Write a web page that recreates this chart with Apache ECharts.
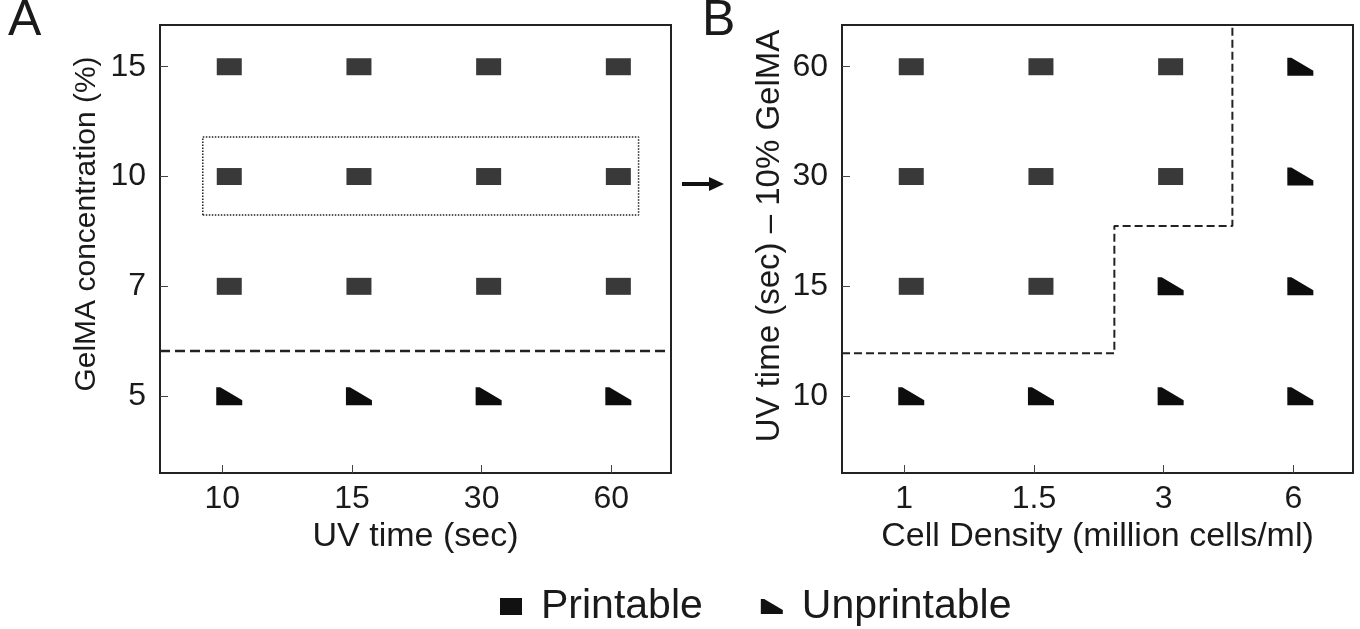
<!DOCTYPE html>
<html>
<head>
<meta charset="utf-8">
<style>
  html, body { margin: 0; padding: 0; background: #fff; }
  #main { width: 1360px; height: 629px; }
</style>
<script src="https://cdn.jsdelivr.net/npm/echarts@6/dist/echarts.min.js"></script>
</head>
<body>
<div id="main"></div>
<script>
'use strict';

// panel A: UV time vs GelMA concentration
const uvTimeA = ['10', '15', '30', '60'];
const gelmaA = ['5', '7', '10', '15'];
// rows follow gelmaA, columns follow uvTimeA (P = printable, U = unprintable)
const statusA = [
  ['U', 'U', 'U', 'U'],
  ['P', 'P', 'P', 'P'],
  ['P', 'P', 'P', 'P'],
  ['P', 'P', 'P', 'P']
];

// panel B: cell density vs UV time (10% GelMA)
const densityB = ['1', '1.5', '3', '6'];
const uvTimeB = ['10', '15', '30', '60'];
const statusB = [
  ['U', 'U', 'U', 'U'],
  ['P', 'P', 'U', 'U'],
  ['P', 'P', 'P', 'U'],
  ['P', 'P', 'P', 'U']
];

const X_MIN = -0.48, X_MAX = 3.46, Y_MIN = -0.7, Y_MAX = 3.38;

// boundaries, in category-index units
const thresholdA = 0.41;
const boxA = [[-0.15, 1.65], [3.21, 1.65], [3.21, 2.36], [-0.15, 2.36], [-0.15, 1.65]];
const stepB = [[X_MIN, 0.39], [1.62, 0.39], [1.62, 1.55], [2.53, 1.55], [2.53, Y_MAX]];

const FONT = '"Liberation Sans", Arial, sans-serif';
const TXT = '#1a1a1a';
const SQUARE = 'rect';
const WEDGE = 'path://M0,0 L4,0 L26,13 L26,18 L0,18 Z';

function points(status, flag) {
  let out = [];
  status.forEach((row, yi) => row.forEach((s, xi) => {
    if (s === flag) out.push([xi, yi]);
  }));
  return out;
}

function xAxis(gridIndex, cats, name) {
  return {
    type: 'value', gridIndex: gridIndex, min: X_MIN, max: X_MAX,
    name: name, nameLocation: 'middle', nameGap: 38,
    nameTextStyle: { fontSize: 34, color: TXT, fontFamily: FONT },
    axisLine: { show: true, onZero: false, lineStyle: { color: '#222', width: 2 } },
    axisTick: { show: true, inside: true, length: 8, customValues: [0, 1, 2, 3], lineStyle: { color: '#444' } },
    axisLabel: {
      customValues: [0, 1, 2, 3], margin: 10, fontSize: 32, color: TXT, fontFamily: FONT,
      formatter: v => cats[Math.round(v)]
    },
    splitLine: { show: false }
  };
}

function yAxis(gridIndex, cats, name, gap, size, shift) {
  return {
    type: 'value', gridIndex: gridIndex, min: Y_MIN, max: Y_MAX,
    name: name, nameLocation: 'middle', nameGap: gap,
    nameTextStyle: { fontSize: size, color: TXT, fontFamily: FONT, padding: [0, 0, 0, shift] },
    axisLine: { show: true, onZero: false, lineStyle: { color: '#222', width: 2 } },
    axisTick: { show: true, inside: true, length: 8, customValues: [0, 1, 2, 3], lineStyle: { color: '#444' } },
    axisLabel: {
      customValues: [0, 1, 2, 3], margin: 14, fontSize: 32, color: TXT, fontFamily: FONT,
      formatter: v => cats[Math.round(v)]
    },
    splitLine: { show: false }
  };
}

function marks(idx, status) {
  return [{
    name: 'Printable', type: 'scatter', xAxisIndex: idx, yAxisIndex: idx,
    symbol: SQUARE, symbolSize: [25, 17], symbolOffset: [7, 0],
    itemStyle: { color: '#393939', opacity: 1 },
    data: points(status, 'P')
  }, {
    name: 'Unprintable', type: 'scatter', xAxisIndex: idx, yAxisIndex: idx,
    symbol: WEDGE, symbolSize: [26, 18], symbolOffset: [7, 0],
    itemStyle: { color: '#0d0d0d', opacity: 1 },
    data: points(status, 'U')
  }];
}

function guide(idx, data, type, width) {
  return {
    type: 'line', xAxisIndex: idx, yAxisIndex: idx, data: data,
    symbol: 'none', silent: true, z: 1,
    lineStyle: { color: '#222', type: type, width: width }
  };
}

let instance = echarts.init(document.getElementById('main'));
instance.setOption({
  animation: false,
  textStyle: { fontFamily: FONT },
  grid: [
    { left: 160, right: 689, top: 25, bottom: 156, show: true, borderColor: '#222', borderWidth: 2 },
    { left: 842, right: 7, top: 25, bottom: 156, show: true, borderColor: '#222', borderWidth: 2 }
  ],
  xAxis: [
    xAxis(0, uvTimeA, 'UV time (sec)'),
    xAxis(1, densityB, 'Cell Density (million cells/ml)')
  ],
  yAxis: [
    yAxis(0, gelmaA, 'GelMA concentration (%)', 58, 30, 50),
    yAxis(1, uvTimeB, 'UV time (sec) – 10% GelMA', 56, 33, 26)
  ],
  legend: {
    left: 495, top: 581,
    itemWidth: 22, itemHeight: 17, itemGap: 58,
    textStyle: { fontSize: 41, color: TXT, fontFamily: FONT, padding: [0, 0, 0, 14] },
    data: [
      { name: 'Printable', icon: SQUARE, itemStyle: { color: '#111' } },
      { name: 'Unprintable', icon: WEDGE, itemStyle: { color: '#111' } }
    ]
  },
  graphic: [
    { type: 'text', left: 8, top: -4, style: { text: 'A', fontSize: 50, fill: TXT, fontFamily: FONT } },
    { type: 'text', left: 702, top: -4, style: { text: 'B', fontSize: 50, fill: TXT, fontFamily: FONT } },
    { type: 'line', shape: { x1: 682, y1: 184, x2: 712, y2: 184 }, style: { stroke: '#111', lineWidth: 4 } },
    { type: 'polygon', shape: { points: [[709, 177], [724, 184], [709, 191]] }, style: { fill: '#111' } }
  ],
  series: [
    ...marks(0, statusA),
    ...marks(1, statusB),
    guide(0, [[X_MIN, thresholdA], [X_MAX, thresholdA]], 'dashed', 2.5),
    guide(0, boxA, 'dotted', 1.5),
    guide(1, stepB, 'dashed', 2)
  ]
});
window.onresize = () => {
  instance.resize();
};
</script>
</body>
</html>
